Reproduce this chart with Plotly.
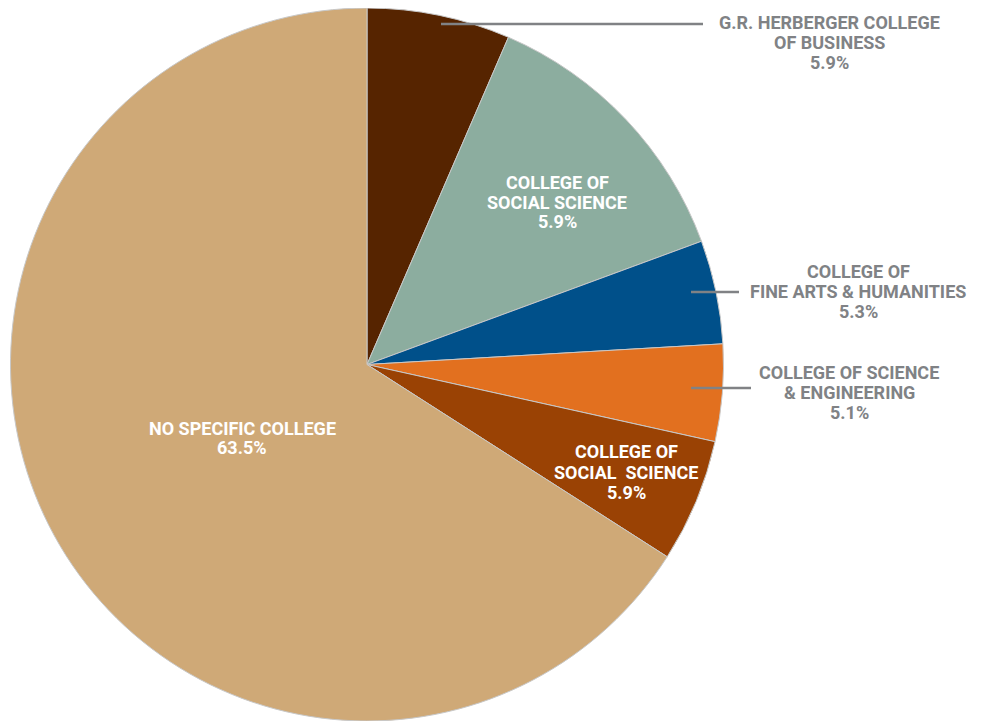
import plotly.graph_objects as go

# Slice shares as drawn (clockwise from 12 o'clock)
categories = [
    "G.R. HERBERGER COLLEGE OF BUSINESS",
    "COLLEGE OF SOCIAL SCIENCE",
    "COLLEGE OF FINE ARTS & HUMANITIES",
    "COLLEGE OF SCIENCE & ENGINEERING",
    "COLLEGE OF SOCIAL  SCIENCE",
    "NO SPECIFIC COLLEGE",
]
slice_values = [6.5, 12.9, 4.7, 4.4, 5.6, 66.0]
printed_pct = ["5.9%", "5.9%", "5.3%", "5.1%", "5.9%", "63.5%"]
label_lines = [
    ["G.R. HERBERGER COLLEGE", "OF BUSINESS"],
    ["COLLEGE OF", "SOCIAL SCIENCE"],
    ["COLLEGE OF", "FINE ARTS & HUMANITIES"],
    ["COLLEGE OF SCIENCE", "& ENGINEERING"],
    ["COLLEGE OF", "SOCIAL  SCIENCE"],
    ["NO SPECIFIC COLLEGE"],
]
colors = ["#562400", "#8cad9f", "#00508a", "#e2701f", "#9a4204", "#cfa977"]

W, H = 988, 721
OFF = 8  # page body margin offset
CX, CY, R = 367 - OFF, 364 - OFF, 357

def px(x):
    return x / W

def py(y):
    return 1 - y / H

fig = go.Figure(go.Pie(
    labels=categories,
    values=slice_values,
    sort=False,
    direction="clockwise",
    rotation=0,
    marker=dict(colors=colors, line=dict(color="#c8c8c8", width=1)),
    textinfo="none",
    hoverinfo="label",
    showlegend=False,
    domain=dict(x=[px(CX - R), px(CX + R)], y=[max(0, py(CY + R)), 1]),
))

FONT = "Roboto, Liberation Sans, sans-serif"
LINE = 20
# label placement: centre x, centre y of the first line (reference pixels), inside?
label_pos = [(829, 23, False), (557, 182, True), (858, 271, False),
             (849, 372, False), (626, 452, True), (242, 428, True)]

for lines, pct, (x, y, inside) in zip(label_lines, printed_pct, label_pos):
    for i, line in enumerate(lines + [pct]):
        fig.add_annotation(
            x=px(x - OFF), y=py(y - OFF + i * LINE), xref="paper", yref="paper",
            text="<b>" + line + "</b>",
            showarrow=False, xanchor="center", yanchor="middle", align="center",
            font=dict(family=FONT, size=18, color="#ffffff" if inside else "#808285"),
        )

# leader lines for outside labels
leaders = [(441, 703, 24), (691, 739, 292), (691, 751, 388)]
for x0, x1, y in leaders:
    fig.add_shape(type="line", xref="paper", yref="paper",
                  x0=px(x0 - OFF), x1=px(x1 - OFF), y0=py(y - OFF), y1=py(y - OFF),
                  line=dict(color="#808285", width=2.5))

fig.update_layout(
    width=W, height=H,
    margin=dict(l=0, r=0, t=0, b=0),
    paper_bgcolor="white", plot_bgcolor="white",
)

fig.write_html("out.html")
